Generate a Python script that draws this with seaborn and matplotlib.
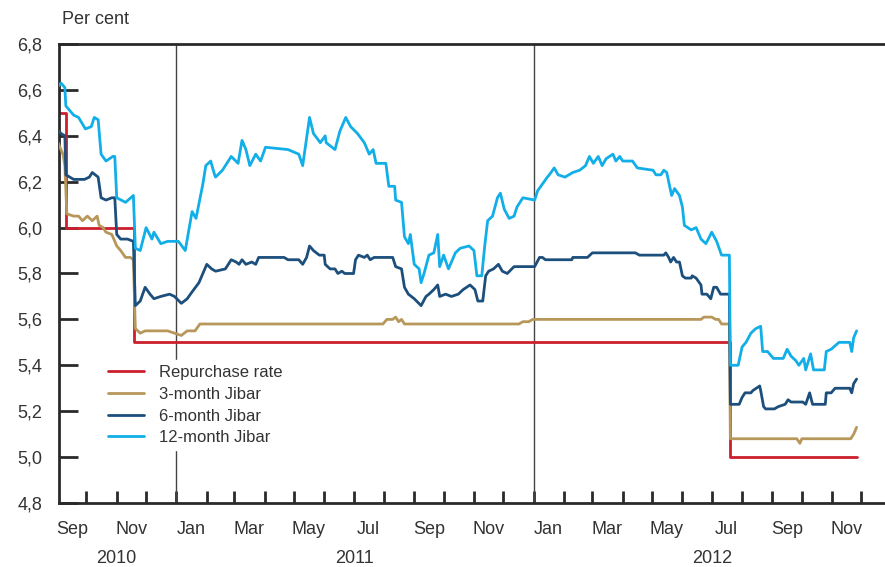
import pandas as pd
import seaborn as sns
import matplotlib.pyplot as plt
import matplotlib.dates as mdates
from matplotlib.ticker import FuncFormatter, MultipleLocator

# 数据
rep_dates = ['2010-09-01', '2010-09-10', '2010-11-19', '2012-07-20', '2012-11-26']
rep_vals = [6.50, 6.00, 5.50, 5.00, 5.00]

j3_dates = ['2010-09-01', '2010-09-04', '2010-09-07', '2010-09-09', '2010-09-11', '2010-09-18', '2010-09-23', '2010-09-27',
            '2010-10-02', '2010-10-07', '2010-10-12', '2010-10-14', '2010-10-18', '2010-10-21', '2010-10-27', '2010-11-01',
            '2010-11-05', '2010-11-10', '2010-11-15', '2010-11-18', '2010-11-20', '2010-11-25', '2010-11-30', '2010-12-07',
            '2010-12-16', '2010-12-23', '2010-12-30', '2011-01-06', '2011-01-12', '2011-01-20', '2011-01-25', '2011-07-31',
            '2011-08-04', '2011-08-10', '2011-08-13', '2011-08-16', '2011-08-19', '2011-08-22', '2011-12-17', '2011-12-21',
            '2011-12-27', '2011-12-31', '2012-06-20', '2012-06-23', '2012-07-01', '2012-07-05', '2012-07-08', '2012-07-11',
            '2012-07-19', '2012-07-20', '2012-09-26', '2012-09-29', '2012-10-01', '2012-11-20', '2012-11-23', '2012-11-26']
j3_vals = [6.38, 6.35, 6.32, 6.27, 6.06, 6.05, 6.05, 6.03,
           6.05, 6.03, 6.05, 6.01, 6.00, 5.98, 5.97, 5.92,
           5.90, 5.87, 5.87, 5.86, 5.56, 5.54, 5.55, 5.55,
           5.55, 5.55, 5.54, 5.53, 5.55, 5.55, 5.58, 5.58,
           5.60, 5.60, 5.61, 5.59, 5.60, 5.58, 5.58, 5.59,
           5.59, 5.60, 5.60, 5.61, 5.61, 5.60, 5.60, 5.58,
           5.58, 5.08, 5.08, 5.06, 5.08, 5.08, 5.10, 5.13]

j6_dates = ['2010-09-01', '2010-09-05', '2010-09-09', '2010-09-10', '2010-09-18', '2010-09-29', '2010-10-04', '2010-10-07',
            '2010-10-13', '2010-10-16', '2010-10-21', '2010-10-27', '2010-10-30', '2010-11-01', '2010-11-05', '2010-11-12',
            '2010-11-18', '2010-11-20', '2010-11-25', '2010-11-30', '2010-12-05', '2010-12-09', '2010-12-16', '2010-12-25',
            '2010-12-30', '2011-01-06', '2011-01-12', '2011-01-17', '2011-01-24', '2011-01-29', '2011-02-01', '2011-02-06',
            '2011-02-10', '2011-02-20', '2011-02-26', '2011-03-03', '2011-03-06', '2011-03-09', '2011-03-13', '2011-03-19',
            '2011-03-23', '2011-03-26', '2011-04-21', '2011-04-25', '2011-05-06', '2011-05-10', '2011-05-14', '2011-05-17',
            '2011-05-21', '2011-05-27', '2011-06-01', '2011-06-02', '2011-06-07', '2011-06-12', '2011-06-15', '2011-06-19',
            '2011-06-22', '2011-07-01', '2011-07-03', '2011-07-06', '2011-07-12', '2011-07-15', '2011-07-18', '2011-07-22',
            '2011-08-10', '2011-08-13', '2011-08-19', '2011-08-22', '2011-08-26', '2011-09-01', '2011-09-08', '2011-09-13',
            '2011-09-16', '2011-09-21', '2011-09-25', '2011-09-27', '2011-10-03', '2011-10-09', '2011-10-16', '2011-10-21',
            '2011-10-28', '2011-11-02', '2011-11-05', '2011-11-10', '2011-11-13', '2011-11-16', '2011-11-21', '2011-11-26',
            '2011-11-30', '2011-12-05', '2011-12-12', '2012-01-02', '2012-01-07', '2012-01-10', '2012-01-13', '2012-02-09',
            '2012-02-10', '2012-02-25', '2012-03-01', '2012-04-14', '2012-04-18', '2012-05-13', '2012-05-15', '2012-05-18',
            '2012-05-20', '2012-05-23', '2012-05-26', '2012-05-29', '2012-06-01', '2012-06-04', '2012-06-10', '2012-06-11',
            '2012-06-15', '2012-06-20', '2012-06-21', '2012-06-26', '2012-06-30', '2012-07-03', '2012-07-06', '2012-07-10',
            '2012-07-19', '2012-07-20', '2012-07-29', '2012-08-01', '2012-08-04', '2012-08-10', '2012-08-12', '2012-08-19',
            '2012-08-20', '2012-08-23', '2012-08-25', '2012-09-03', '2012-09-07', '2012-09-14', '2012-09-17', '2012-09-20',
            '2012-10-02', '2012-10-05', '2012-10-09', '2012-10-12', '2012-10-25', '2012-10-26', '2012-10-31', '2012-11-04',
            '2012-11-19', '2012-11-21', '2012-11-23', '2012-11-26']
j6_vals = [6.43, 6.41, 6.40, 6.23, 6.21, 6.21, 6.22, 6.24,
           6.22, 6.13, 6.12, 6.13, 6.13, 5.97, 5.95, 5.95,
           5.94, 5.66, 5.68, 5.74, 5.71, 5.69, 5.70, 5.71,
           5.70, 5.67, 5.69, 5.72, 5.76, 5.81, 5.84, 5.82,
           5.81, 5.82, 5.86, 5.85, 5.84, 5.86, 5.84, 5.85,
           5.84, 5.87, 5.87, 5.86, 5.86, 5.84, 5.87, 5.92,
           5.90, 5.88, 5.88, 5.84, 5.82, 5.82, 5.80, 5.81,
           5.80, 5.80, 5.86, 5.88, 5.87, 5.88, 5.86, 5.87,
           5.87, 5.83, 5.82, 5.74, 5.71, 5.69, 5.66, 5.70,
           5.71, 5.73, 5.75, 5.70, 5.71, 5.70, 5.71, 5.73,
           5.75, 5.73, 5.68, 5.68, 5.79, 5.81, 5.82, 5.84,
           5.81, 5.80, 5.83, 5.83, 5.87, 5.87, 5.86, 5.86,
           5.87, 5.87, 5.89, 5.89, 5.88, 5.88, 5.89, 5.87,
           5.85, 5.87, 5.85, 5.85, 5.79, 5.78, 5.78, 5.79,
           5.78, 5.75, 5.71, 5.71, 5.69, 5.74, 5.74, 5.71,
           5.71, 5.23, 5.23, 5.26, 5.28, 5.28, 5.29, 5.31,
           5.29, 5.22, 5.21, 5.21, 5.22, 5.23, 5.25, 5.24,
           5.24, 5.23, 5.28, 5.23, 5.23, 5.28, 5.28, 5.30,
           5.30, 5.28, 5.32, 5.34]

j12_dates = ['2010-09-01', '2010-09-05', '2010-09-09', '2010-09-10', '2010-09-18', '2010-09-23', '2010-09-30', '2010-10-06',
             '2010-10-09', '2010-10-13', '2010-10-16', '2010-10-21', '2010-10-28', '2010-10-30', '2010-11-01', '2010-11-10',
             '2010-11-18', '2010-11-20', '2010-11-25', '2010-12-01', '2010-12-07', '2010-12-09', '2010-12-16', '2010-12-23',
             '2011-01-03', '2011-01-10', '2011-01-17', '2011-01-21', '2011-01-28', '2011-01-31', '2011-02-05', '2011-02-09',
             '2011-02-10', '2011-02-17', '2011-02-26', '2011-03-05', '2011-03-09', '2011-03-13', '2011-03-17', '2011-03-23',
             '2011-03-28', '2011-04-02', '2011-04-25', '2011-05-06', '2011-05-10', '2011-05-14', '2011-05-17', '2011-05-21',
             '2011-05-28', '2011-06-02', '2011-06-03', '2011-06-12', '2011-06-17', '2011-06-23', '2011-06-28', '2011-07-05',
             '2011-07-12', '2011-07-17', '2011-07-21', '2011-07-24', '2011-08-03', '2011-08-06', '2011-08-12', '2011-08-13',
             '2011-08-19', '2011-08-22', '2011-08-26', '2011-08-28', '2011-09-01', '2011-09-06', '2011-09-08', '2011-09-11',
             '2011-09-16', '2011-09-21', '2011-09-25', '2011-09-27', '2011-10-01', '2011-10-06', '2011-10-13', '2011-10-18',
             '2011-10-27', '2011-11-01', '2011-11-04', '2011-11-09', '2011-11-12', '2011-11-15', '2011-11-20', '2011-11-25',
             '2011-11-28', '2011-12-02', '2011-12-07', '2011-12-12', '2011-12-15', '2011-12-21', '2012-01-02', '2012-01-05',
             '2012-01-10', '2012-01-15', '2012-01-17', '2012-01-22', '2012-01-26', '2012-02-02', '2012-02-10', '2012-02-17',
             '2012-02-23', '2012-02-27', '2012-03-02', '2012-03-07', '2012-03-11', '2012-03-15', '2012-03-22', '2012-03-25',
             '2012-03-29', '2012-04-01', '2012-04-11', '2012-04-16', '2012-05-02', '2012-05-05', '2012-05-10', '2012-05-13',
             '2012-05-16', '2012-05-21', '2012-05-24', '2012-05-29', '2012-06-01', '2012-06-03', '2012-06-10', '2012-06-15',
             '2012-06-20', '2012-06-25', '2012-07-01', '2012-07-06', '2012-07-11', '2012-07-19', '2012-07-20', '2012-07-28',
             '2012-08-01', '2012-08-05', '2012-08-10', '2012-08-15', '2012-08-20', '2012-08-22', '2012-08-27', '2012-09-02',
             '2012-09-12', '2012-09-16', '2012-09-20', '2012-09-25', '2012-09-28', '2012-10-03', '2012-10-05', '2012-10-10',
             '2012-10-13', '2012-10-24', '2012-10-26', '2012-10-31', '2012-11-08', '2012-11-14', '2012-11-19', '2012-11-21',
             '2012-11-23', '2012-11-26']
j12_vals = [6.61, 6.63, 6.61, 6.53, 6.49, 6.48, 6.43, 6.44,
            6.48, 6.47, 6.32, 6.29, 6.31, 6.31, 6.13, 6.11,
            6.14, 5.91, 5.90, 6.00, 5.95, 5.98, 5.93, 5.94,
            5.94, 5.90, 6.07, 6.04, 6.19, 6.27, 6.29, 6.23,
            6.22, 6.25, 6.31, 6.28, 6.38, 6.34, 6.27, 6.32,
            6.29, 6.35, 6.34, 6.32, 6.27, 6.39, 6.48, 6.41,
            6.37, 6.40, 6.37, 6.34, 6.42, 6.48, 6.44, 6.41,
            6.37, 6.32, 6.34, 6.28, 6.28, 6.18, 6.18, 6.12,
            6.11, 5.96, 5.93, 5.97, 5.84, 5.82, 5.76, 5.80,
            5.88, 5.89, 5.97, 5.83, 5.88, 5.82, 5.89, 5.91,
            5.92, 5.90, 5.79, 5.79, 5.92, 6.03, 6.05, 6.13,
            6.15, 6.08, 6.04, 6.05, 6.09, 6.13, 6.12, 6.16,
            6.19, 6.22, 6.23, 6.26, 6.23, 6.22, 6.24, 6.25,
            6.27, 6.31, 6.28, 6.31, 6.27, 6.30, 6.32, 6.29,
            6.31, 6.29, 6.29, 6.26, 6.25, 6.23, 6.23, 6.25,
            6.24, 6.14, 6.17, 6.14, 6.09, 6.01, 5.99, 6.00,
            5.95, 5.93, 5.98, 5.94, 5.88, 5.88, 5.40, 5.40,
            5.48, 5.50, 5.54, 5.56, 5.57, 5.46, 5.46, 5.43,
            5.43, 5.47, 5.44, 5.42, 5.40, 5.43, 5.38, 5.45,
            5.38, 5.38, 5.46, 5.47, 5.50, 5.50, 5.50, 5.46,
            5.52, 5.55]

series_labels = ['Repurchase rate', '3-month Jibar', '6-month Jibar', '12-month Jibar']
year_labels = ['2010', '2011', '2012']
year_centres = ['2010-11-01', '2011-07-02', '2012-07-01']
year_breaks = ['2011-01-01', '2012-01-01']

colors = ['#cc1f2d', '#b8975a', '#1c4f7c', '#12aee8']
txt = '#333333'
dark = '#2a2a2a'

sns.set_style('ticks')
plt.rcParams['font.family'] = ['Liberation Sans', 'DejaVu Sans']

fig = plt.figure(figsize=(8.85, 5.67), dpi=100)
ax = fig.add_axes([59 / 885, 64 / 567, 825 / 885, 459 / 567])

# 年份分隔线
for d in year_breaks:
    ax.axvline(pd.Timestamp(d), color='#444444', lw=1, zorder=1)

all_series = [(rep_dates, rep_vals), (j3_dates, j3_vals), (j6_dates, j6_vals), (j12_dates, j12_vals)]
for i, (dts, vals) in enumerate(all_series):
    kw = {'drawstyle': 'steps-post'} if i == 0 else {}
    sns.lineplot(x=pd.to_datetime(dts), y=vals, ax=ax, color=colors[i], lw=2,
                 label=series_labels[i], estimator=None, zorder=2 + i, **kw)

ax.set_xlim(pd.Timestamp('2010-09-03'), pd.Timestamp('2012-12-24'))
ax.set_ylim(4.8, 6.8)
ax.set_xlabel('')
ax.set_ylabel('')

# 坐标轴样式
for s in ['left', 'bottom', 'top']:
    ax.spines[s].set_color(dark)
    ax.spines[s].set_linewidth(2)
ax.spines['right'].set_visible(False)

ax.yaxis.set_major_locator(MultipleLocator(0.2))
ax.yaxis.set_major_formatter(FuncFormatter(lambda v, _: f'{v:.1f}'.replace('.', ',')))
ax.tick_params(axis='y', direction='in', length=14, width=2, color=dark, pad=12,
               labelsize=13, labelcolor=txt, right=False)

ax.xaxis.set_major_locator(mdates.MonthLocator())
ax.xaxis.set_major_formatter(plt.NullFormatter())
ax.xaxis.set_minor_locator(mdates.MonthLocator(bymonth=(1, 3, 5, 7, 9, 11), bymonthday=16))
ax.xaxis.set_minor_formatter(mdates.DateFormatter('%b'))
ax.tick_params(axis='x', which='major', direction='in', length=9, width=2, color=dark, top=False)
ax.tick_params(axis='x', which='minor', length=0, pad=13, labelsize=13, labelcolor=txt, top=False)

for lab, c in zip(year_labels, year_centres):
    ax.text(pd.Timestamp(c), -0.12, lab, transform=ax.get_xaxis_transform(),
            ha='center', va='center', fontsize=13, color=txt)

fig.text(62 / 885, 1 - 20 / 567, 'Per cent', ha='left', va='center', fontsize=13, color=txt)

leg = ax.legend(loc='upper left', bbox_to_anchor=(0.053, 0.311), frameon=True, framealpha=1,
                edgecolor='white', fancybox=False, handlelength=2.2, handletextpad=0.9,
                labelspacing=0.4, fontsize=12, borderpad=0.3, borderaxespad=0)
for t in leg.get_texts():
    t.set_color(txt)
leg.set_zorder(10)

plt.savefig('out.png', dpi=100)
